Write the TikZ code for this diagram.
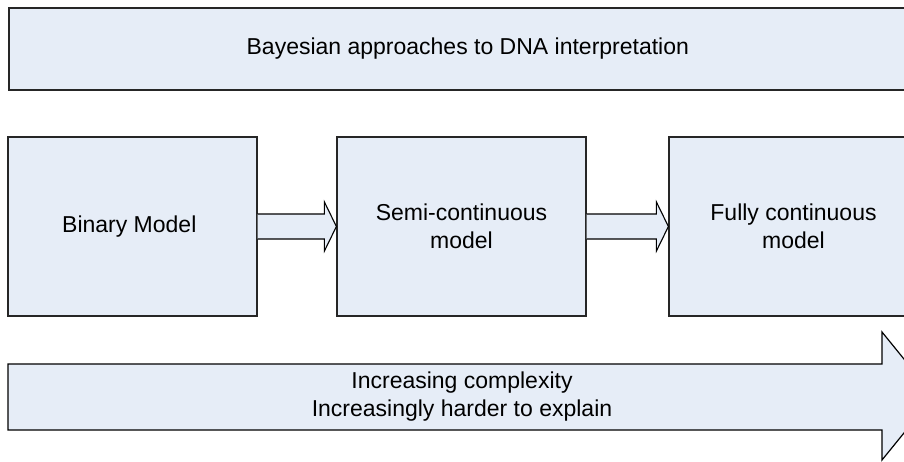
\documentclass[tikz,border=0pt]{standalone}
\usepackage{fontspec}
\setmainfont{Liberation Sans}
\usetikzlibrary{calc}
\definecolor{boxfill}{HTML}{E6EDF7}
\definecolor{boxline}{HTML}{262626}
\tikzset{
    modelbox/.style={draw=boxline, fill=boxfill, line width=1.2pt, rectangle, inner sep=0pt, align=center,
        font=\fontsize{23}{28}\selectfont},
    blockarrow/.style={draw=black, fill=boxfill, line width=1.1pt, line join=miter}
}
\begin{document}
\begin{tikzpicture}[x=1pt, y=-1pt]
    \useasboundingbox (0,0) rectangle (904,461);

    % Title box
    \node[modelbox, minimum width=924pt, minimum height=82pt] (title) at (471,49) {
        Bayesian approaches to DNA interpretation
    };

    % Model boxes
    \node[modelbox, minimum width=249pt, minimum height=179pt] (binary) at (132.5,226.5) {
        Binary Model
    };
    \node[modelbox, minimum width=249pt, minimum height=179pt] (semi) at (461.5,226.5) {
        Semi-continuous\\
        model
    };
    \node[modelbox, minimum width=249pt, minimum height=179pt] (fully) at (793.5,226.5) {
        Fully continuous\\
        model
    };

    % Steps between models
    \draw[blockarrow] ($(binary.east)+(0,-12.5)$) -- ($(semi.west)+(-12,-12.5)$)
        -- ($(semi.west)+(-12,-24.5)$) -- (semi.west) -- ($(semi.west)+(-12,24.5)$)
        -- ($(semi.west)+(-12,12.5)$) -- ($(binary.east)+(0,12.5)$);
    \draw[blockarrow] ($(semi.east)+(0,-12.5)$) -- ($(fully.west)+(-12,-12.5)$)
        -- ($(fully.west)+(-12,-24.5)$) -- (fully.west) -- ($(fully.west)+(-12,24.5)$)
        -- ($(fully.west)+(-12,12.5)$) -- ($(semi.east)+(0,12.5)$);

    % Trend arrow
    \draw[blockarrow, line width=1.2pt] (8,364) -- (882,364) -- (882,332) -- (934,396)
        -- (882,460) -- (882,430) -- (8,430) -- cycle;
    \node[align=center, font=\fontsize{23}{28}\selectfont] (trend) at (462,397) {
        Increasing complexity\\
        Increasingly harder to explain
    };

\end{tikzpicture}
\end{document}
